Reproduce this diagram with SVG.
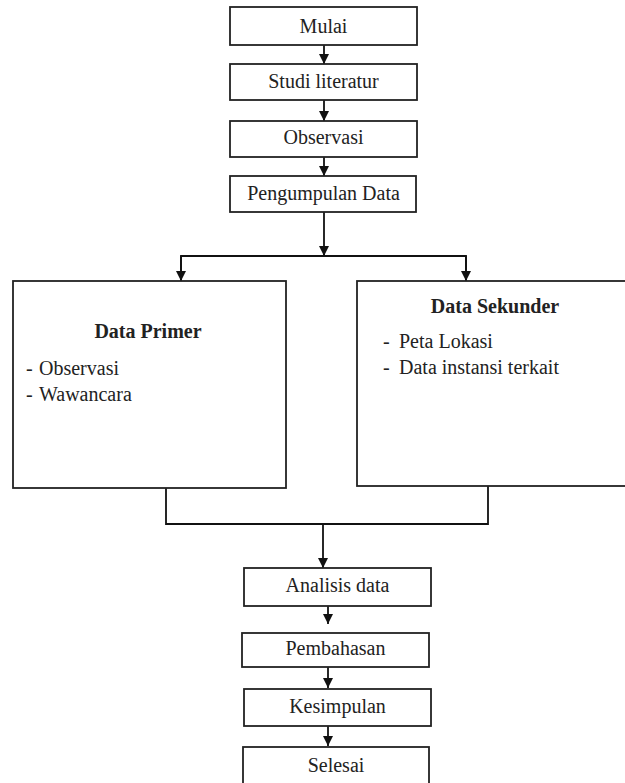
<svg xmlns="http://www.w3.org/2000/svg" width="625" height="783" viewBox="0 0 625 783">
<style>
.box{fill:#fff;stroke:#222;stroke-width:1.8}
text{font-family:"Liberation Serif","DejaVu Serif","Times New Roman",serif;font-size:20px;fill:#222}
.t{text-anchor:middle}
.b{font-weight:bold}
.c{fill:none;stroke:#111;stroke-width:1.8}
</style>
<defs>
<marker id="a" markerUnits="userSpaceOnUse" markerWidth="10" markerHeight="10" viewBox="0 0 10 10" refX="10" refY="5" orient="auto">
<path d="M0,0 L10,5 L0,10 Z" fill="#111"/>
</marker>
</defs>
<g id="connectors">
<line class="c" x1="324" y1="45" x2="324" y2="64" marker-end="url(#a)"/>
<line class="c" x1="324" y1="100" x2="324" y2="121" marker-end="url(#a)"/>
<line class="c" x1="324" y1="157" x2="324" y2="176" marker-end="url(#a)"/>
<line class="c" x1="324" y1="212" x2="324" y2="256"/>
<polyline class="c" points="181,281 181,256 466,256 466,281"/>
<line class="c" x1="181" y1="256" x2="181" y2="281" marker-end="url(#a)"/>
<line class="c" x1="466" y1="256" x2="466" y2="281" marker-end="url(#a)"/>
<line class="c" x1="324" y1="247" x2="324" y2="256" marker-end="url(#a)"/>
<polyline class="c" points="166,488 166,524 488,524 488,486"/>
<line class="c" x1="323" y1="524" x2="323" y2="568" marker-end="url(#a)"/>
<line class="c" x1="328" y1="606" x2="328" y2="624" marker-end="url(#a)"/>
<line class="c" x1="328" y1="667" x2="328" y2="688" marker-end="url(#a)"/>
<line class="c" x1="328" y1="726" x2="328" y2="746" marker-end="url(#a)"/>
</g>
<g id="mulai"><rect class="box" x="230" y="7" width="187" height="38"/><text class="t" x="323.5" y="33">Mulai</text></g>
<g id="studi"><rect class="box" x="230" y="64" width="187" height="36"/><text class="t" x="323.5" y="88">Studi literatur</text></g>
<g id="observasi"><rect class="box" x="230" y="121" width="187" height="36"/><text class="t" x="323.5" y="144">Observasi</text></g>
<g id="pengumpulan"><rect class="box" x="230" y="176" width="186" height="36"/><text class="t" x="323.5" y="200">Pengumpulan Data</text></g>
<g id="primer"><rect class="box" x="13" y="281" width="273" height="207"/>
<text class="t b" x="148" y="338">Data Primer</text>
<text x="26" y="375">-</text><text x="39" y="375">Observasi</text>
<text x="26" y="401">-</text><text x="39" y="401">Wawancara</text></g>
<g id="sekunder"><rect class="box" x="357" y="281" width="280" height="205"/>
<text class="t b" x="495" y="313">Data Sekunder</text>
<text x="383" y="348">-</text><text x="399" y="348">Peta Lokasi</text>
<text x="383" y="374">-</text><text x="399" y="374">Data instansi terkait</text></g>
<g id="analisis"><rect class="box" x="244" y="568" width="187" height="38"/><text class="t" x="337.5" y="592">Analisis data</text></g>
<g id="pembahasan"><rect class="box" x="242" y="633" width="187" height="34"/><text class="t" x="335.5" y="655">Pembahasan</text></g>
<g id="kesimpulan"><rect class="box" x="244" y="689" width="187" height="37"/><text class="t" x="337.5" y="713">Kesimpulan</text></g>
<g id="selesai"><rect class="box" x="243" y="747" width="186" height="45"/><text class="t" x="336" y="772">Selesai</text></g>
</svg>
